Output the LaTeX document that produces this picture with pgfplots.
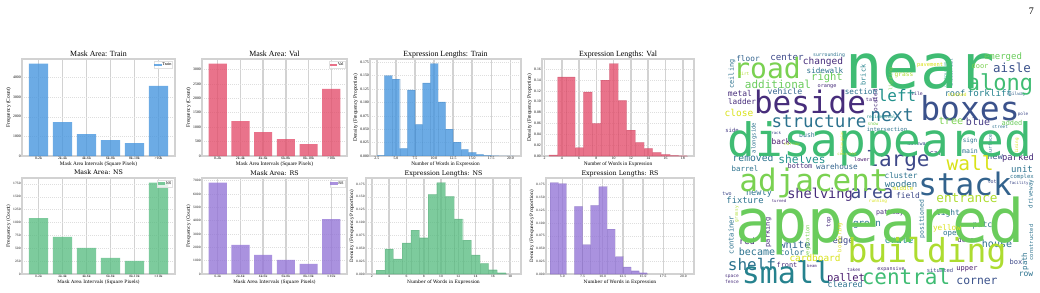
\documentclass[border=0pt]{standalone}
\usepackage{fontspec}
\setmainfont{Liberation Serif}
\newfontfamily\dserif{DejaVu Serif}
\newfontfamily\cloudfont{DejaVu Sans Mono}
\usepackage{pgfplots}
\usepackage{pgfplotstable}
\pgfplotsset{compat=1.18}

% series colours (drawn at fill opacity 0.78)
\definecolor{cTrain}{RGB}{67,148,222}
\definecolor{cVal}{RGB}{227,76,106}
\definecolor{cNS}{RGB}{88,188,129}
\definecolor{cRS}{RGB}{146,115,214}
\definecolor{gridc}{RGB}{210,210,210}

% viridis steps for the word cloud
\definecolor{p1}{HTML}{481A6C}
\definecolor{p2}{HTML}{472D7B}
\definecolor{p3}{HTML}{443983}
\definecolor{p4}{HTML}{3E4989}
\definecolor{p5}{HTML}{3B528B}
\definecolor{p6}{HTML}{33638D}
\definecolor{p7}{HTML}{2C728E}
\definecolor{p8}{HTML}{26828E}
\definecolor{p9}{HTML}{21918C}
\definecolor{p10}{HTML}{1FA088}
\definecolor{p12}{HTML}{3FBC73}
\definecolor{p13}{HTML}{6ACC5C}
\definecolor{p14}{HTML}{7AD151}
\definecolor{p15}{HTML}{ADDC30}
\definecolor{p16}{HTML}{D8E219}
\definecolor{p17}{HTML}{FDE725}

% ---------- mask area counts (bins 0-2k ... >10k) ----------
\pgfplotstableread{
x y
0 4700
1 1726
2 1111
3 803
4 650
5 3573
}\areaTrain
\pgfplotstableread{
x y
0 3198
1 1209
2 826
3 581
4 407
5 2326
}\areaVal
\pgfplotstableread{
x y
0 1086
1 720
2 508
3 315
4 257
5 1774
}\areaNS
\pgfplotstableread{
x y
0 6856
1 2178
2 1436
3 1064
4 767
5 4109
}\areaRS

% ---------- expression length densities (bin centre, density) ----------
\pgfplotstableread{
x y
3 0.0010
4 0.1500
5 0.1435
6 0.0144
7 0.1234
8 0.0589
9 0.1366
10 0.1723
11 0.1009
12 0.0501
13 0.0257
14 0.0125
15 0.0069
16 0.0030
17 0.0012
18 0.0006
19 0.0003
20 0.0002
}\lenTrain
\pgfplotstableread{
x y
3 0.0020
4 0.1457
5 0.1457
6 0.0154
7 0.1180
8 0.0600
9 0.1395
10 0.1700
11 0.1025
12 0.0475
13 0.0253
14 0.0142
15 0.0068
16 0.0030
17 0.0012
18 0.0006
}\lenVal
\pgfplotstableread{
x y
3 0.0077
4 0.0487
5 0.0295
6 0.0603
7 0.0853
8 0.0705
9 0.1545
10 0.1776
11 0.1506
12 0.1070
13 0.0660
14 0.0372
15 0.0205
16 0.0083
17 0.0026
}\lenNS
\pgfplotstableread{
x y
4 0.1790
5 0.1770
7 0.1324
8 0.0575
9 0.1344
10 0.1712
11 0.0879
12 0.0342
13 0.0142
14 0.0065
15 0.0026
}\lenRS

% ---------- word cloud: centre x, centre y (from top), size, rotation, colour step, word ----------
\pgfplotstableread{
x y s r c w
920 71.5 62 0 12 near
767 68 28 0 14 road
1000 84 22 0 12 along
810 102 31 0 2 beside
970 108 33 0 5 boxes
892 115 18 0 7 next
897 95 16 0 9 left
819 121 17.5 0 7 structure
880 144 46 0 12 disappeared
778 84 11 0 13 additional
823 62 9.5 0 2 changed
787 57.5 9.2 0 4 center
748 59 7.8 0 6 floor
827 78 10.5 0 13 right
825 70.5 7.6 0 7 sidewalk
1012 68 12.5 0 5 aisle
1003 57.5 9 0 13 emerged
980 65.5 7 0 14 door
990 93.5 9.2 0 8 forklift
955 93 8.5 0 7 roof
861 92 7.7 0 7 section
785 91.5 8.2 0 6 vehicle
740 93.5 8 0 2 metal
742 101.5 7.7 0 2 ladder
739 112.5 9.5 0 16 close
732 74 6.8 90 7 ceiling
863 75 6.9 90 8 brick
875 102 6 90 2 located
891 79 4.8 90 14 lighting
904 75.5 6.2 0 15 grass
951 73 4.6 90 7 industrial
945 75 3.4 90 10 construction
951 121 10.2 0 14 tree
978 121.5 10 0 3 blue
1012 123 6.9 0 13 added
887 129 5.6 0 7 intersection
827 87 5.2 0 2 orange
829 55 4.8 0 7 surrounding
930 65.5 5.4 0 16 pavement
744 74 4.4 0 15 dirt
917 94 4.8 0 2 tile
957 95 4.5 0 16 stacked
1016 94.5 4.5 0 6 railway
1023 114 4.3 0 4 pole
1000 127 4.4 0 7 street
872 99.5 5 0 2 tall
881 117 4.4 0 9 residential
873 124 4.5 0 14 snow
732 130 5.6 0 3 side
754 138 5.6 90 7 alongside
781 141.5 7.8 0 1 back
807 135.5 6.5 0 7 bush
792 144 4.3 0 15 narrow
842 143 3.5 90 17 rectangular
775 133.5 4 0 4 track
918 144 5 0 5 walkway
970 140.5 6 0 7 sign
970 151 6.5 0 7 main
990 145 4.9 90 7 surface
1017 146 4.3 90 16 lining
753 158 9.7 0 7 removed
802 159.5 11.2 0 9 shelves
898 161 21 0 4 large
970 163.5 19.5 0 16 wall
995 157 8.8 0 5 new
1018 158.5 8.8 0 2 parked
936 154 7 0 3 car
862 159.5 5.2 0 1 lower
847 154 4 0 15 concrete
745 168.5 7.4 0 7 barrel
800 166 6.8 0 2 bottom
837 167 7.7 0 6 warehouse
1022 169.5 9 0 7 unit
814 183 31 0 14 adjacent
965 183.5 31 0 6 stack
901 176 7.8 0 7 cluster
901 184 9 0 7 wooden
1022 176.5 5.6 0 7 complex
992 182 5 0 4 lot
1019 183 4 0 4 facility
1031 194 6 90 7 driveway
759 193.5 8.6 0 7 newly
820 194.5 13.6 0 2 shelving
872 194 17.8 0 4 area
903 188.5 5.7 0 16 middle
908 196 7.9 0 4 field
967 198 12.7 0 15 entrance
745 200.5 8.8 0 7 fixture
727 194 5 0 4 two
779 201 4 0 2 turned
880 225.5 60 0 13 appeared
927 253 33 0 15 building
787 272.5 30 0 8 small
906 276.5 21 0 12 central
752 264 16 0 7 shelf
977 281.5 11.4 0 5 corner
846 278.5 10.5 0 1 pallet
845 284.5 8.3 0 7 cleared
967 269.5 7 0 1 upper
1026 274.5 8 0 7 row
1016 262 7 0 4 box
997 243.5 10 0 7 house
1025 261.5 7.4 90 7 path
1031 242.5 5.4 90 7 constructed
922 219 6.4 90 7 positioned
899 240 9.6 0 9 crate
843 241 8.7 0 4 edge
968 239.5 6.9 0 2 dense
985 225.5 8.2 0 7 patch
948 213 7.9 0 7 light
947 228 7.7 0 16 yellow
952 234.5 7.4 0 7 open
890 212.5 6.6 0 2 pathway
867 224.5 9.3 0 7 green
829 222 5.8 90 2 top
840 237.5 5.4 90 16 bordering
768 232.5 7 90 2 parking
808 241 5.4 90 14 vegetation
747 241 8.8 0 2 red
757 251.5 10 0 7 became
795 245 10.3 0 6 white
792 252 8.2 0 7 color
815 258 9.4 0 16 cardboard
731 235 7.1 90 7 container
737 214 4.5 90 15 grassy
787 264.5 6.9 0 2 front
812 266.5 4 0 2 beam
854 270 4.4 0 2 taken
891 269.5 5 0 2 expansive
940 270.5 5.5 0 4 situated
732 277 4.5 0 2 space
732 282 4.5 0 2 fence
878 201 4.3 0 16 running
}\cloud

\pgfplotsset{
  panel/.style={
    scale only axis, anchor=south west,
    axis line style={draw=gridc, line width=1.4pt},
    major tick length=0pt,
    xmajorgrids, ymajorgrids,
    x grid style={draw=gridc, line width=1.5pt},
    y grid style={draw=black!13, line width=0.35pt, dash pattern=on 1pt off 1pt},
    ymin=0,
    scaled ticks=false,
    /pgf/number format/1000 sep={},
    /pgf/number format/assume math mode=true,
    tick label style={inner sep=1pt},
    legend cell align=left,
    legend style={at={(0.985,0.975)}, anchor=north east, draw=black!12,
      line width=0.3pt, fill=white, fill opacity=0.8, text opacity=1,
      inner sep=0.5pt, nodes={inner sep=0.6pt}},
  },
  % the default title style already lifts the title by 6pt
  toprow/.style={panel, height=97pt,
    title style={font=\fontsize{7.9}{8}\selectfont, anchor=base, yshift=-3.5pt, inner sep=0pt},
    tick label style={font=\fontsize{3.8}{4}\selectfont},
    label style={font=\fontsize{5.3}{6}\selectfont, inner sep=1pt},
    legend style={font=\fontsize{4.3}{5}\selectfont}},
  botrow/.style={panel, height=96pt,
    title style={font=\dserif\fontsize{6.3}{7}\selectfont, anchor=base, yshift=-3pt, inner sep=0pt},
    tick label style={font=\dserif\fontsize{3}{3.5}\selectfont},
    label style={font=\dserif\fontsize{4.5}{5}\selectfont, inner sep=1pt},
    legend style={font=\dserif\fontsize{3.6}{4}\selectfont}},
  catx/.style={xmin=-0.69, xmax=5.69, xtick={0,...,5},
    xticklabels={0-2k,2k-4k,4k-6k,6k-8k,8k-10k,>10k},
    xlabel={Mask Area Intervals (Square Pixels)}, ylabel={Frequency (Count)}},
  histx/.style={xlabel={Number of Words in Expression},
    ylabel={Density (Frequency Proportion)}},
  yprec/.style={y tick label style={/pgf/number format/fixed,
    /pgf/number format/fixed zerofill, /pgf/number format/precision=#1}},
  xprec/.style={x tick label style={/pgf/number format/fixed,
    /pgf/number format/fixed zerofill, /pgf/number format/precision=#1}},
  catbar/.style={ybar, bar width=0.8, bar shift=0pt, draw=none, fill=#1, fill opacity=0.78,
    legend image code/.code={\fill[fill=#1, fill opacity=0.78] (0pt,-1.3pt) rectangle (7.5pt,1.3pt);}},
  histbar/.style={ybar, bar width=1, bar shift=0pt, fill=#1, fill opacity=0.78,
    draw=#1!75!black, draw opacity=0.18, line width=0.3pt},
}

\begin{document}
\begin{tikzpicture}
\useasboundingbox (0pt,0pt) rectangle (1040pt,292pt);
\node[anchor=base east, inner sep=0pt, font=\fontsize{10}{10}\selectfont] at (1034pt,277pt) {7};

% ---------------- top row ----------------
\begin{axis}[toprow, catx, at={(22pt,136pt)}, width=153pt,
  ymax=4935, ytick={0,1000,...,4000}, title={Mask Area: Train}]
\addplot[catbar=cTrain] table {\areaTrain};
\addlegendentry{Train}
\end{axis}

\begin{axis}[toprow, catx, at={(202pt,136pt)}, width=145pt,
  ymax=3358, ytick={0,500,...,3000}, title={Mask Area: Val}]
\addplot[catbar=cVal] table {\areaVal};
\addlegendentry{Val}
\end{axis}

\begin{axis}[toprow, histx, at={(370pt,136pt)}, width=151pt,
  xmin=1.6, xmax=21.4, ymax=0.1809,
  xtick={2.5,5,...,20}, ytick={0,0.025,...,0.176},
  xprec=1, yprec=3, title={Expression Lengths: Train}]
\addplot[histbar=cTrain] table {\lenTrain};
\end{axis}

\begin{axis}[toprow, histx, at={(542pt,136pt)}, width=152pt,
  xmin=1.7, xmax=19.3, ymax=0.1785,
  xtick={2,4,...,18}, ytick={0,0.02,...,0.161},
  yprec=2, title={Expression Lengths: Val}]
\addplot[histbar=cVal] table {\lenVal};
\end{axis}

% ---------------- bottom row ----------------
\begin{axis}[botrow, catx, at={(22pt,18pt)}, width=153pt,
  ymax=1863, ytick={0,250,...,1750}, title={Mask Area: NS}]
\addplot[catbar=cNS] table {\areaNS};
\addlegendentry{NS}
\end{axis}

\begin{axis}[botrow, catx, at={(202pt,18pt)}, width=145pt,
  ymax=7199, ytick={0,1000,...,7000}, title={Mask Area: RS}]
\addplot[catbar=cRS] table {\areaRS};
\addlegendentry{RS}
\end{axis}

\begin{axis}[botrow, histx, at={(366pt,18pt)}, width=155pt,
  xmin=1.32, xmax=19.25, ymax=0.1865,
  xtick={2,4,...,18}, ytick={0,0.025,...,0.176},
  yprec=3, title={Expression Lengths: NS}]
\addplot[histbar=cNS] table {\lenNS};
\end{axis}

\begin{axis}[botrow, histx, at={(546pt,18pt)}, width=148pt,
  xmin=2.98, xmax=21.3, ymax=0.188,
  xtick={5,7.5,...,20}, ytick={0,0.025,...,0.176},
  xprec=1, yprec=3, title={Expression Lengths: RS}]
\addplot[histbar=cRS] table {\lenRS};
\end{axis}

% ---------------- word cloud ----------------
\begin{axis}[at={(700pt,0pt)}, anchor=south west, scale only axis,
  width=340pt, height=292pt, xmin=700, xmax=1040, ymin=0, ymax=292,
  y dir=reverse, hide axis, clip=false]
\pgfplotsinvokeforeach{1,2,3,4,5,6,7,8,9,10,12,13,14,15,16,17}{
\addplot[only marks, mark=none, point meta=explicit symbolic,
  restrict expr to domain={\thisrow{c}}{#1:#1},
  visualization depends on={\thisrow{s}\as\wsize},
  visualization depends on={\thisrow{r}\as\wrot},
  nodes near coords={\fontsize{\wsize}{\wsize}\selectfont\pgfplotspointmeta},
  every node near coord/.append style={anchor=center, inner sep=0pt,
    rotate=\wrot, text=p#1, font=\cloudfont}]
  table[x=x, y=y, meta=w] {\cloud};
}
\end{axis}
\end{tikzpicture}
\end{document}
